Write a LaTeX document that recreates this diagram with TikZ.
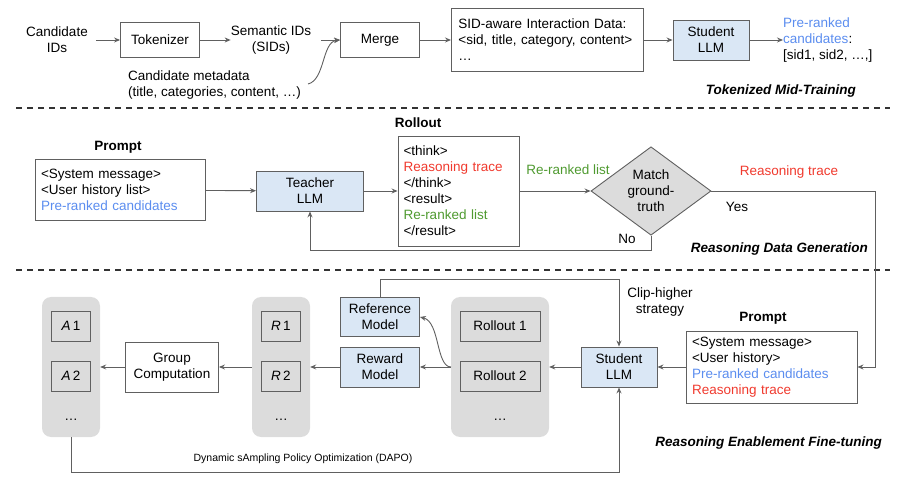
\documentclass[tikz,border=0pt]{standalone}
\usepackage{fontspec}
\setmainfont{Liberation Sans}
\usetikzlibrary{arrows.meta,shapes.geometric}
\definecolor{ln}{HTML}{606060}
\definecolor{bfill}{HTML}{DAE7F5}
\definecolor{gfill}{HTML}{DCDCDC}
\definecolor{tblue}{HTML}{5B8DEF}
\definecolor{tred}{HTML}{F03A2E}
\definecolor{tgreen}{HTML}{4F9A30}
\tikzset{
 box/.style={draw=ln,line width=0.9pt,minimum width=#1,align=center,inner sep=0pt},
 box/.default=80pt,
 llm/.style={box=#1,fill=bfill},
 llm/.default=78pt,
 col/.style={fill=gfill,rounded corners=9pt,draw=none},
 arr/.style={draw=ln,line width=0.9pt,-{Stealth[length=6pt,width=5pt]}},
 ln/.style={draw=ln,line width=0.9pt},
 txt/.style={align=center,inner sep=0pt},
 ttl/.style={font=\fontsize{13.5}{16}\selectfont\bfseries\itshape,inner sep=0pt,anchor=east},
 hd/.style={font=\fontsize{13.5}{16}\selectfont\bfseries,inner sep=0pt},
}
\begin{document}
\begin{tikzpicture}[x=1pt,y=-1pt,font=\fontsize{13.5}{16}\selectfont]
\useasboundingbox (0,0) rectangle (900,486);
% row 1
\node[txt] (cid) at (57,40) {Candidate\\IDs};
\node[box=79pt,minimum height=35pt] (tok) at (160,40) {Tokenizer};
\node[txt] (sid) at (271,40) {Semantic IDs\\(SIDs)};
\node[box=79pt,minimum height=35pt] (merge) at (380,40) {Merge};
\node[txt,align=left,anchor=west] (meta) at (128,85) {Candidate metadata\\(title, categories, content, \dots)};
\node[box=192pt,minimum height=63pt,align=left,anchor=west,inner xsep=7pt,text width=178pt] (sidd) at (451,40) {SID-aware Interaction Data:\\<sid, title, category, content>\\\dots};
\node[llm=76pt,minimum height=40pt] (st1) at (711,40) {Student\\LLM};
\node[txt,align=left,anchor=west] (pre) at (783,40) {\textcolor{tblue}{Pre-ranked}\\\textcolor{tblue}{candidates}:\\{}[sid1, sid2, \dots,]};
\node[ttl] (t1) at (856,91) {Tokenized Mid-Training};
\draw[arr] (cid.east)++(8,0) -- (tok.west);
\draw[arr] (tok) -- (sid);
\draw[arr] (sid.east)++(10,0) -- (merge.west);
\draw[arr] (308,84) .. controls (325,80) and (322,42) .. (merge.west);
\draw[arr] (merge) -- (sidd);
\draw[arr] (sidd) -- (st1);
\draw[arr] (st1) -- (pre);
\draw[ln,dashed,dash pattern=on 6pt off 5pt,line width=1.3pt,draw=black!80] (16,108) -- (890,108);
% row 2
\node[hd] (ph1) at (118,147) {Prompt};
\node[box=170pt,minimum height=61pt,align=left,text width=158pt] (p1) at (120,190) {<System message>\\<User history list>\\\textcolor{tblue}{Pre-ranked candidates}};
\node[llm=107pt,minimum height=40pt] (te) at (310,191) {Teacher\\LLM};
\node[hd] (rh) at (418,123) {Rollout};
\node[box=121pt,minimum height=110pt,align=left,text width=110pt] (ro) at (458.5,191) {<think>\\\textcolor{tred}{Reasoning trace}\\</think>\\<result>\\\textcolor{tgreen}{Re-ranked list}\\</result>};
\node[diamond,draw=ln,fill=gfill,line width=0.9pt,minimum width=120pt,minimum height=74pt,inner sep=0pt,align=center] (dm) at (651,191) {Match\\ground-\\truth};
\node[txt,text=tgreen] at (568,170) {Re-ranked list};
\node[txt,text=tred] at (789,172) {Reasoning trace};
\node[txt] at (737,207) {Yes};
\node[txt] at (627,239) {No};
\node[ttl] (t2) at (868,249) {Reasoning Data Generation};
\draw[arr] (p1) -- (te);
\draw[arr] (te) -- (ro.west|-te);
\draw[arr] (ro.east|-dm) -- (dm.west);
\draw[arr] (dm.south) -- (651,250) -| (te.south);
\draw[ln,dashed,dash pattern=on 6pt off 5pt,line width=1.3pt,draw=black!80] (16,270) -- (890,270);
% row 3
\node[col,minimum width=58pt,minimum height=140pt] (ac) at (71,367) {};
\node[box=39pt,minimum height=30pt] (a1) at (71,326) {\textit{A}\,1};
\node[box=39pt,minimum height=30pt] (a2) at (71,376) {\textit{A}\,2};
\node[txt] at (71,420) {\dots};
\node[box=93pt,minimum height=50pt] (gc) at (172,367) {Group\\Computation};
\node[col,minimum width=58pt,minimum height=140pt] (rc) at (281,367) {};
\node[box=39pt,minimum height=30pt] (r1) at (281,326) {\textit{R}\,1};
\node[box=39pt,minimum height=30pt] (r2) at (281,376) {\textit{R}\,2};
\node[txt] at (281,420) {\dots};
\node[llm=79pt,minimum height=39pt] (ref) at (380,317) {Reference\\Model};
\node[llm=79pt,minimum height=40pt] (rew) at (380,367) {Reward\\Model};
\node[col,minimum width=98pt,minimum height=140pt] (oc) at (500,367) {};
\node[box=80pt,minimum height=30pt] (o1) at (500,326) {Rollout 1};
\node[box=80pt,minimum height=30pt] (o2) at (500,376) {Rollout 2};
\node[txt] at (500,420) {\dots};
\node[llm=76pt,minimum height=40pt] (st2) at (619,367) {Student\\LLM};
\node[txt] at (660,302) {Clip-higher\\strategy};
\node[hd] (ph2) at (763,318) {Prompt};
\node[box=171pt,minimum height=72pt,align=left,text width=159pt] (p2) at (771.5,367) {<System message>\\<User history>\\\textcolor{tblue}{Pre-ranked candidates}\\\textcolor{tred}{Reasoning trace}};
\node[ttl] (t3) at (882,443) {Reasoning Enablement Fine-tuning};
\node[txt,font=\fontsize{10.5}{12}\selectfont] at (303,459) {Dynamic sAmpling Policy Optimization (DAPO)};
\draw[arr] (dm.east) -- (875,191) |- (p2.east);
\draw[arr] (p2) -- (st2);
\draw[arr] (st2) -- (oc.east|-st2);
\draw[arr] (oc.west|-st2) -- (rew.east);
\draw[arr] (451,367) .. controls (436,367) and (440,322) .. (ref.east);
\draw[arr] (rew) -- (rc.east|-rew);
\draw[arr] (rc.west|-gc) -- (gc.east);
\draw[arr] (gc) -- (ac.east|-gc);
\draw[arr] (ref.north) -- (380,279) -| (st2.north);
\draw[arr] (ac.south) -- (71,472) -| (st2.south);
\end{tikzpicture}
\end{document}
